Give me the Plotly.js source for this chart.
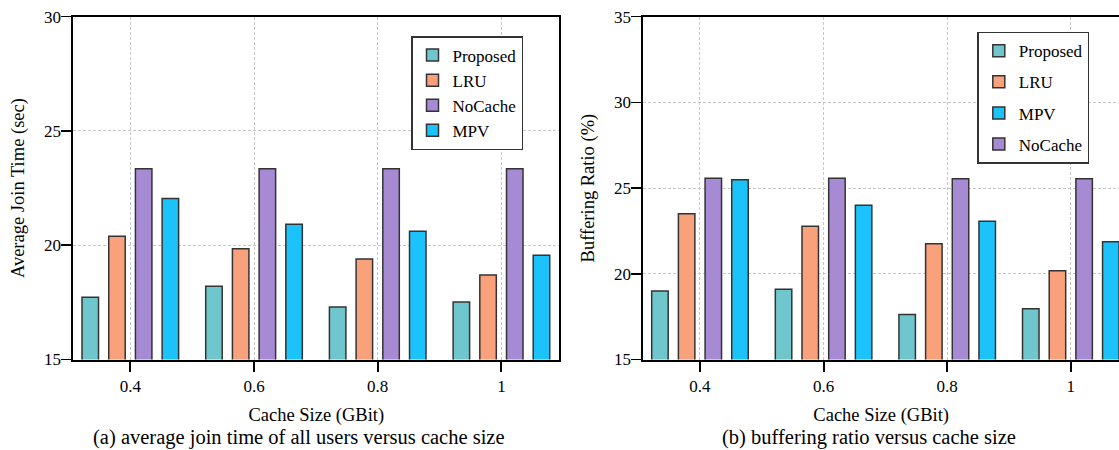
<!DOCTYPE html>
<html>
<head>
<meta charset="utf-8">
<script src="https://cdn.plot.ly/plotly-3.0.1.min.js"></script>
<style>
html,body{margin:0;padding:0;background:#fff;}
#chart{width:1119px;height:450px;}
</style>
</head>
<body>
<div id="chart"></div>
<script>
// ---- data ----
const categories = [0.4, 0.6, 0.8, 1];
const tickLabels = ['0.4', '0.6', '0.8', '1'];
const seriesNames = ['Proposed', 'LRU', 'NoCache', 'MPV'];

// (a) average join time (sec)
const joinProposed = [17.72, 18.2, 17.3, 17.52];
const joinLRU      = [20.39, 19.85, 19.4, 18.7];
const joinNoCache  = [23.35, 23.35, 23.35, 23.35];
const joinMPV      = [22.04, 20.92, 20.61, 19.56];

// (b) buffering ratio (%)
const bufProposed = [19.0, 19.1, 17.63, 17.96];
const bufLRU      = [23.5, 22.78, 21.75, 20.18];
const bufNoCache  = [25.57, 25.57, 25.55, 25.55];
const bufMPV      = [25.49, 24.0, 23.06, 21.87];

const yTicksA = [15, 20, 25, 30];
const yTicksB = [15, 20, 25, 30, 35];

// ---- styles ----
const colors = {Proposed: '#70C6CD', LRU: '#F8A17B', NoCache: '#A68AD4', MPV: '#1CC3FB'};
const FONT = 'Liberation Serif, Times New Roman, Times, serif';
const W = 1119, H = 450;

function bar(name, y, xa, ya, legend, rank, group) {
  return {
    type: 'bar', name: name, x: categories, y: y,
    xaxis: xa, yaxis: ya, legend: legend, legendrank: rank,
    legendgroup: group,
    marker: {color: colors[name], line: {color: '#333333', width: 1.5}},
    hoverinfo: 'skip'
  };
}

const dataA = [
  bar('Proposed', joinProposed, 'x', 'y', 'legend', 1, 'a'),
  bar('LRU', joinLRU, 'x', 'y', 'legend', 2, 'a'),
  bar('NoCache', joinNoCache, 'x', 'y', 'legend', 3, 'a'),
  bar('MPV', joinMPV, 'x', 'y', 'legend', 4, 'a')
];
const dataB = [
  bar('Proposed', bufProposed, 'x2', 'y2', 'legend2', 1, 'b1'),
  bar('LRU', bufLRU, 'x2', 'y2', 'legend2', 2, 'b2'),
  bar('NoCache', bufNoCache, 'x2', 'y2', 'legend2', 4, 'b4'),
  bar('MPV', bufMPV, 'x2', 'y2', 'legend2', 3, 'b3')
];

const yBottom = (H - 359.5) / H, yTop = (H - 16.7) / H;
const GRID = {showgrid: true, gridcolor: '#c8c8c8', griddash: '3px,2px', gridwidth: 1};

function xAxis(domain, range, mirror) {
  return Object.assign({
    domain: domain, range: range, type: 'linear',
    tickmode: 'array', tickvals: categories, ticktext: tickLabels,
    ticks: 'outside', ticklen: 10, tickwidth: 2, tickcolor: '#000',
    showline: true, linecolor: '#000', linewidth: 2, mirror: mirror,
    zeroline: false, fixedrange: true,
    tickfont: {family: FONT, size: 17, color: '#000'},
    title: {text: 'Cache Size (GBit)', font: {family: FONT, size: 18.5, color: '#000'}, standoff: 13}
  }, GRID);
}
function yAxis(range, ticks, title, mirror, anchor) {
  return Object.assign({
    domain: [yBottom, yTop], range: range, anchor: anchor,
    tickmode: 'array', tickvals: ticks, ticktext: ticks.map(String),
    ticks: 'outside', ticklen: 10, tickwidth: 1.5, tickcolor: '#000',
    ticklabelstandoff: -3,
    showline: true, linecolor: '#000', linewidth: 2, mirror: mirror,
    zeroline: false, fixedrange: true,
    tickfont: {family: FONT, size: 17, color: '#000'},
    title: {text: title, font: {family: FONT, size: 18.5, color: '#000'}, standoff: 14}
  }, GRID);
}

const layout = {
  width: W, height: H,
  margin: {l: 0, r: 0, t: 0, b: 0},
  paper_bgcolor: '#fff', plot_bgcolor: '#fff',
  barmode: 'group', bargap: 0.1365, bargroupgap: 0.382,
  font: {family: FONT, color: '#000'},
  xaxis: Object.assign(xAxis([73.3 / W, 559.3 / W], [0.3078, 1.0936], true), {anchor: 'y'}),
  yaxis: yAxis([15, 30], yTicksA, 'Average Join Time (sec)', true, 'x'),
  xaxis2: Object.assign(xAxis([643.3 / W, 1], [0.3083, 1.078], true), {anchor: 'y2'}),
  yaxis2: yAxis([15, 35], yTicksB, 'Buffering Ratio (%)', false, 'x2'),
  legend: {
    x: 411 / W, y: (H - 36) / H, xanchor: 'left', yanchor: 'top',
    bgcolor: '#fff', bordercolor: '#333', borderwidth: 1.5,
    font: {family: FONT, size: 17, color: '#000'},
    tracegroupgap: 0, traceorder: 'normal'
  },
  legend2: {
    x: 977.3 / W, y: (H - 31.7) / H, xanchor: 'left', yanchor: 'top',
    bgcolor: '#fff', bordercolor: '#333', borderwidth: 1.5,
    font: {family: FONT, size: 17, color: '#000'},
    tracegroupgap: 6, traceorder: 'grouped'
  },
  annotations: [
    {text: '(a) average join time of all users versus cache size', xref: 'paper', yref: 'paper',
     x: 298.5 / W, y: (H - 437) / H, xanchor: 'center', yanchor: 'middle', showarrow: false,
     font: {family: FONT, size: 20.5, color: '#000'}},
    {text: '(b) buffering ratio versus cache size', xref: 'paper', yref: 'paper',
     x: 869 / W, y: (H - 437) / H, xanchor: 'center', yanchor: 'middle', showarrow: false,
     font: {family: FONT, size: 20.5, color: '#000'}}
  ],
  showlegend: true
};

Plotly.newPlot('chart', dataA.concat(dataB), layout, {displayModeBar: false, staticPlot: true});
</script>
</body>
</html>
